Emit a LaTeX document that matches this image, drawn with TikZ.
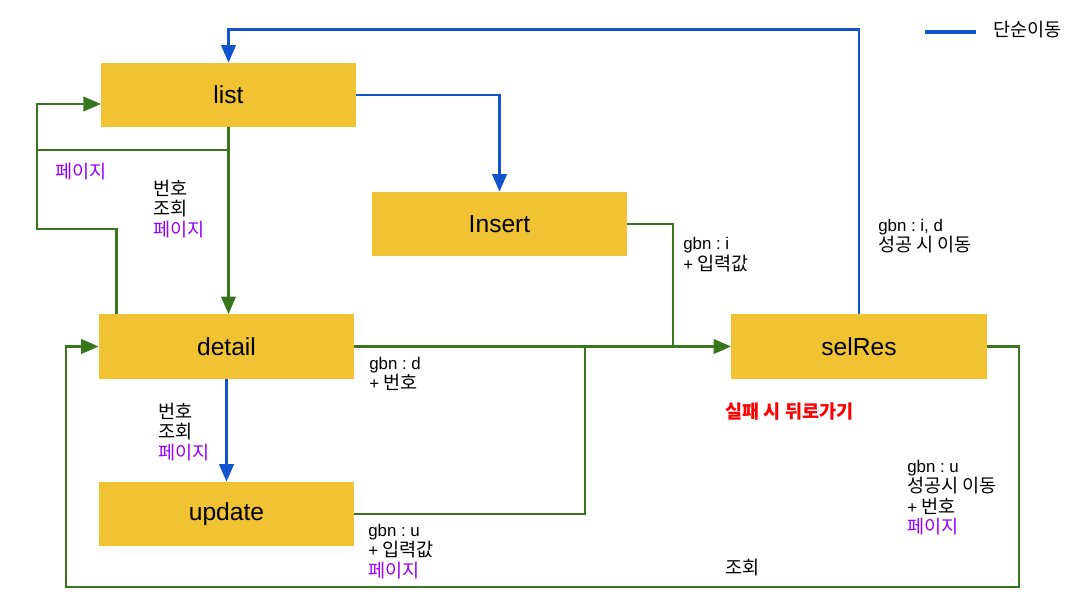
\documentclass[tikz,border=0pt]{standalone}
\usepackage{fontspec}
\setmainfont{Liberation Sans}
\newfontfamily\kr[Scale=1.1]{Noto Sans CJK KR}
\usepackage{xcolor}
\usetikzlibrary{arrows.meta}
\definecolor{box-bg}{HTML}{F1C232}
\definecolor{flow-green}{HTML}{38761D}
\definecolor{flow-blue}{HTML}{1155CC}
\definecolor{page-purple}{HTML}{9900FF}
\newcommand{\eng}[1]{{\rmfamily #1}}
\frenchspacing

\begin{document}
\begin{tikzpicture}[x=0.025cm, y=-0.025cm,
    every node/.style={font=\kr\fontsize{12}{14.6}\selectfont},
    screen/.style={fill=box-bg, minimum width=6.375cm, minimum height=1.6cm, font=\rmfamily\fontsize{17.5}{20}\selectfont},
    note/.style={anchor=west, inner sep=0pt, align=left},
    green-line/.style={draw=flow-green, line width=2.1pt},
    blue-line/.style={draw=flow-blue, line width=2.1pt},
    tip/.style={-{Triangle[length=0.44cm, width=0.36cm]}}]
    \useasboundingbox (0, 0) rectangle (1086, 610);

    % screens
    \node[screen] (list) at (228.5, 95) {list};
    \node[screen] (insert) at (499.5, 224) {Insert};
    \node[screen] (detail) at (226.5, 346.5) {detail};
    \node[screen] (update) at (226.5, 514) {update};
    \node[screen] (selres) at (859, 346.5) {selRes};

    % bends
    \coordinate (page-left) at (37, 150);
    \coordinate (page-in) at (101, 104);
    \coordinate (join-i) at (673, 346.5);
    \coordinate (join-u) at (585, 346.5);
    \coordinate (legend-a) at (925, 32);
    \coordinate (legend-b) at (976, 32);

    % blue moves
    \draw[blue-line, tip] (selres.north) -- ++(0, -285) -| (list.north);
    \draw[blue-line, tip] (list.east) -| (insert.north);
    \draw[blue-line, tip] (detail.south) -- (update.north);
    \draw[blue-line, line width=2.5pt] (legend-a) -- (legend-b);

    % green moves
    \draw[green-line, tip] (list.south) -- (list.south |- detail.north);
    \draw[green-line] (list.south |- page-left) -- (page-left);
    \draw[green-line, tip] ([xshift=0.45cm]detail.north west) |- (37, 229) |- (page-in);
    \draw[green-line, tip] (detail.east) -- (selres.west);
    \draw[green-line] (insert.east) -| (join-i);
    \draw[green-line] (update.east) -| (join-u);
    \draw[green-line, tip] (selres.east) -| (1019, 587) -| (66, 346.5) -- (detail.west);

    % labels
    \node[note] (legend-txt) at (993, 30) {단순이동};
    \node[note, text=page-purple] (page-txt) at (55, 172) {페이지};
    \node[note] (list-args) at (153, 209) {번호\\조회\\\textcolor{page-purple}{페이지}};
    \node[note] (insert-args) at (683, 254.5) {\eng{gbn : i}\\\eng{+} 입력값};
    \node[note] (selres-ok) at (878, 236) {\eng{gbn : i, d}\\성공 시 이동};
    \node[note] (detail-args) at (369, 374) {\eng{gbn : d}\\\eng{+} 번호};
    \node[note] (update-in) at (158, 432) {번호\\조회\\\textcolor{page-purple}{페이지}};
    \node[note] (update-args) at (368, 551.5) {\eng{gbn : u}\\\eng{+} 입력값\\\textcolor{page-purple}{페이지}};
    \node[note, text=red, font=\kr\bfseries\fontsize{12}{14.6}\selectfont] (fail-txt) at (725, 412) {실패 시 뒤로가기};
    \node[note] (selres-u) at (907, 497.5) {\eng{gbn : u}\\성공시 이동\\\eng{+} 번호\\\textcolor{page-purple}{페이지}};
    \node[note] (view-txt) at (725, 568) {조회};
  \end{tikzpicture}
\end{document}
